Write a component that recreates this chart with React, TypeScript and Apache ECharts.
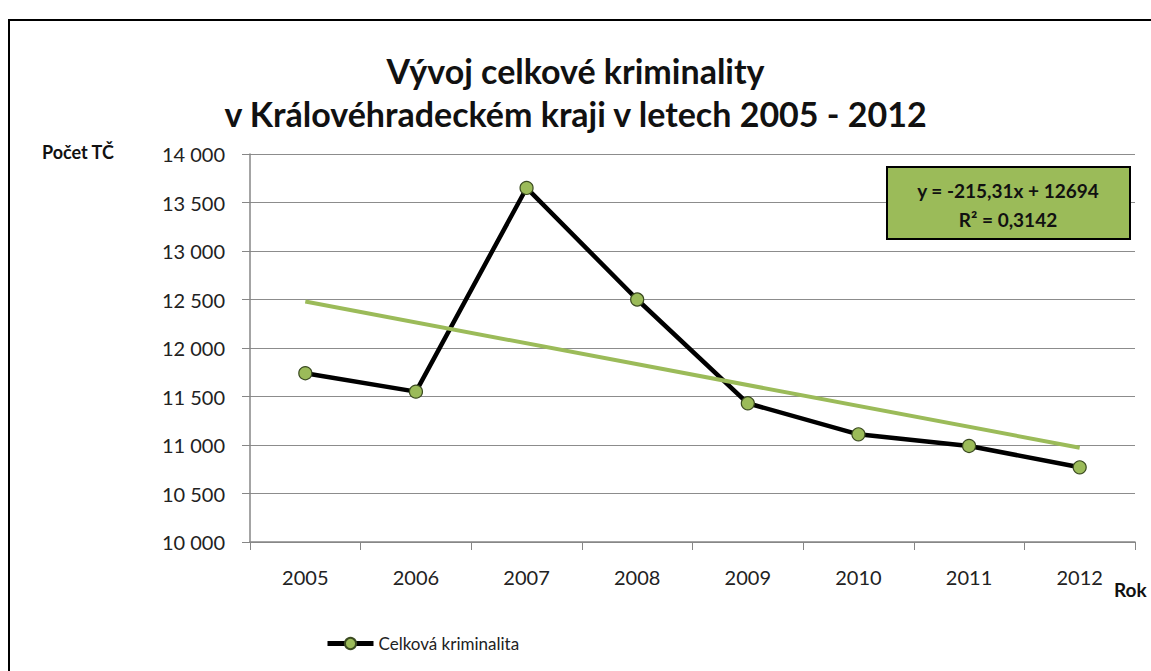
import React, { useEffect, useRef } from "react";
import * as echarts from "echarts";

const categories = ["2005", "2006", "2007", "2008", "2009", "2010", "2011", "2012"];
const crimeValues = [11740, 11550, 13650, 12500, 11430, 11110, 10990, 10770];
const trendValues: (number | null)[] = [12479, null, null, null, null, null, null, 10972];
const yTicks = [10000, 10500, 11000, 11500, 12000, 12500, 13000, 13500, 14000];
const titleLines = ["Vývoj celkové kriminality", "v Královéhradeckém kraji v letech 2005 - 2012"];
const equationLines = ["y = -215,31x + 12694", "R² = 0,3142"];

const FONT = "Lato, 'Open Sans', sans-serif";

export default function App() {
  const ref = useRef<HTMLDivElement>(null);
  useEffect(() => {
    document.body.style.margin = "0";
    const chart = echarts.init(ref.current!, null, { renderer: "svg" });
    chart.setOption({
      animation: false,
      backgroundColor: "#ffffff",
      textStyle: { fontFamily: FONT },
      title: {
        text: titleLines.join("\n"),
        left: "center",
        top: 44,
        textStyle: { fontSize: 34, fontWeight: "bold", color: "#111", lineHeight: 43, fontFamily: FONT },
      },
      grid: { left: 250, right: 16, top: 154, bottom: 129, containLabel: false },
      xAxis: {
        type: "category",
        data: categories,
        boundaryGap: true,
        axisLine: { lineStyle: { color: "#868686", width: 1.5 } },
        axisTick: { show: true, length: 8, lineStyle: { color: "#868686" } },
        axisLabel: { fontSize: 20, color: "#222", margin: 25, fontFamily: FONT },
      },
      yAxis: {
        type: "value",
        min: yTicks[0],
        max: yTicks[yTicks.length - 1],
        interval: 500,
        axisLine: { show: true, lineStyle: { color: "#868686", width: 1.5 } },
        axisTick: { show: true, length: 8, lineStyle: { color: "#868686" } },
        splitLine: { lineStyle: { color: "#8c8c8c", width: 1.2 } },
        axisLabel: {
          fontSize: 20,
          color: "#222",
          margin: 25,
          fontFamily: FONT,
          formatter: (v: number) => String(v).replace(/\B(?=(\d{3})+(?!\d))/g, " "),
        },
      },
      legend: {
        data: ["Celková kriminalita"],
        left: 320,
        top: 630,
        itemWidth: 46,
        itemHeight: 14,
        itemGap: 4,
        lineStyle: { width: 5, color: "#000" },
        textStyle: { fontSize: 17, color: "#222", fontFamily: FONT },
      },
      series: [
        {
          name: "Celková kriminalita",
          type: "line",
          data: crimeValues,
          lineStyle: { color: "#000", width: 4.5 },
          itemStyle: { color: "#9BBB59", borderColor: "#3a4a20", borderWidth: 1.2 },
          symbol: "circle",
          symbolSize: 13,
          z: 3,
        },
        {
          name: "Trend",
          type: "line",
          data: trendValues,
          connectNulls: true,
          showSymbol: false,
          symbol: "none",
          lineStyle: { color: "#9BBB59", width: 4 },
          z: 4,
        },
      ],
      graphic: [
        {
          type: "rect",
          shape: { x: 9, y: 20, width: 1170, height: 700 },
          style: { fill: "none", stroke: "#000", lineWidth: 2 },
          silent: true,
        },
        {
          type: "text",
          left: 42,
          top: 143,
          style: { text: "Počet TČ", font: `bold 18px ${FONT}`, fill: "#111" },
        },
        {
          type: "text",
          left: 1114,
          top: 580,
          style: { text: "Rok", font: `bold 19px ${FONT}`, fill: "#111" },
        },
        {
          type: "rect",
          shape: { x: 887, y: 167, width: 243, height: 72 },
          style: { fill: "#9BBB59", stroke: "#000", lineWidth: 2 },
          z: 10,
        },
        {
          type: "text",
          x: 1008,
          y: 190,
          style: { text: equationLines[0], font: `bold 19px ${FONT}`, fill: "#111", align: "center", verticalAlign: "middle" },
          z: 11,
        },
        {
          type: "text",
          x: 1008,
          y: 219,
          style: { text: equationLines[1], font: `bold 19px ${FONT}`, fill: "#111", align: "center", verticalAlign: "middle" },
          z: 11,
        },
      ],
    });
    return () => chart.dispose();
  }, []);
  return <div ref={ref} style={{ width: 1151, height: 671 }} />;
}
